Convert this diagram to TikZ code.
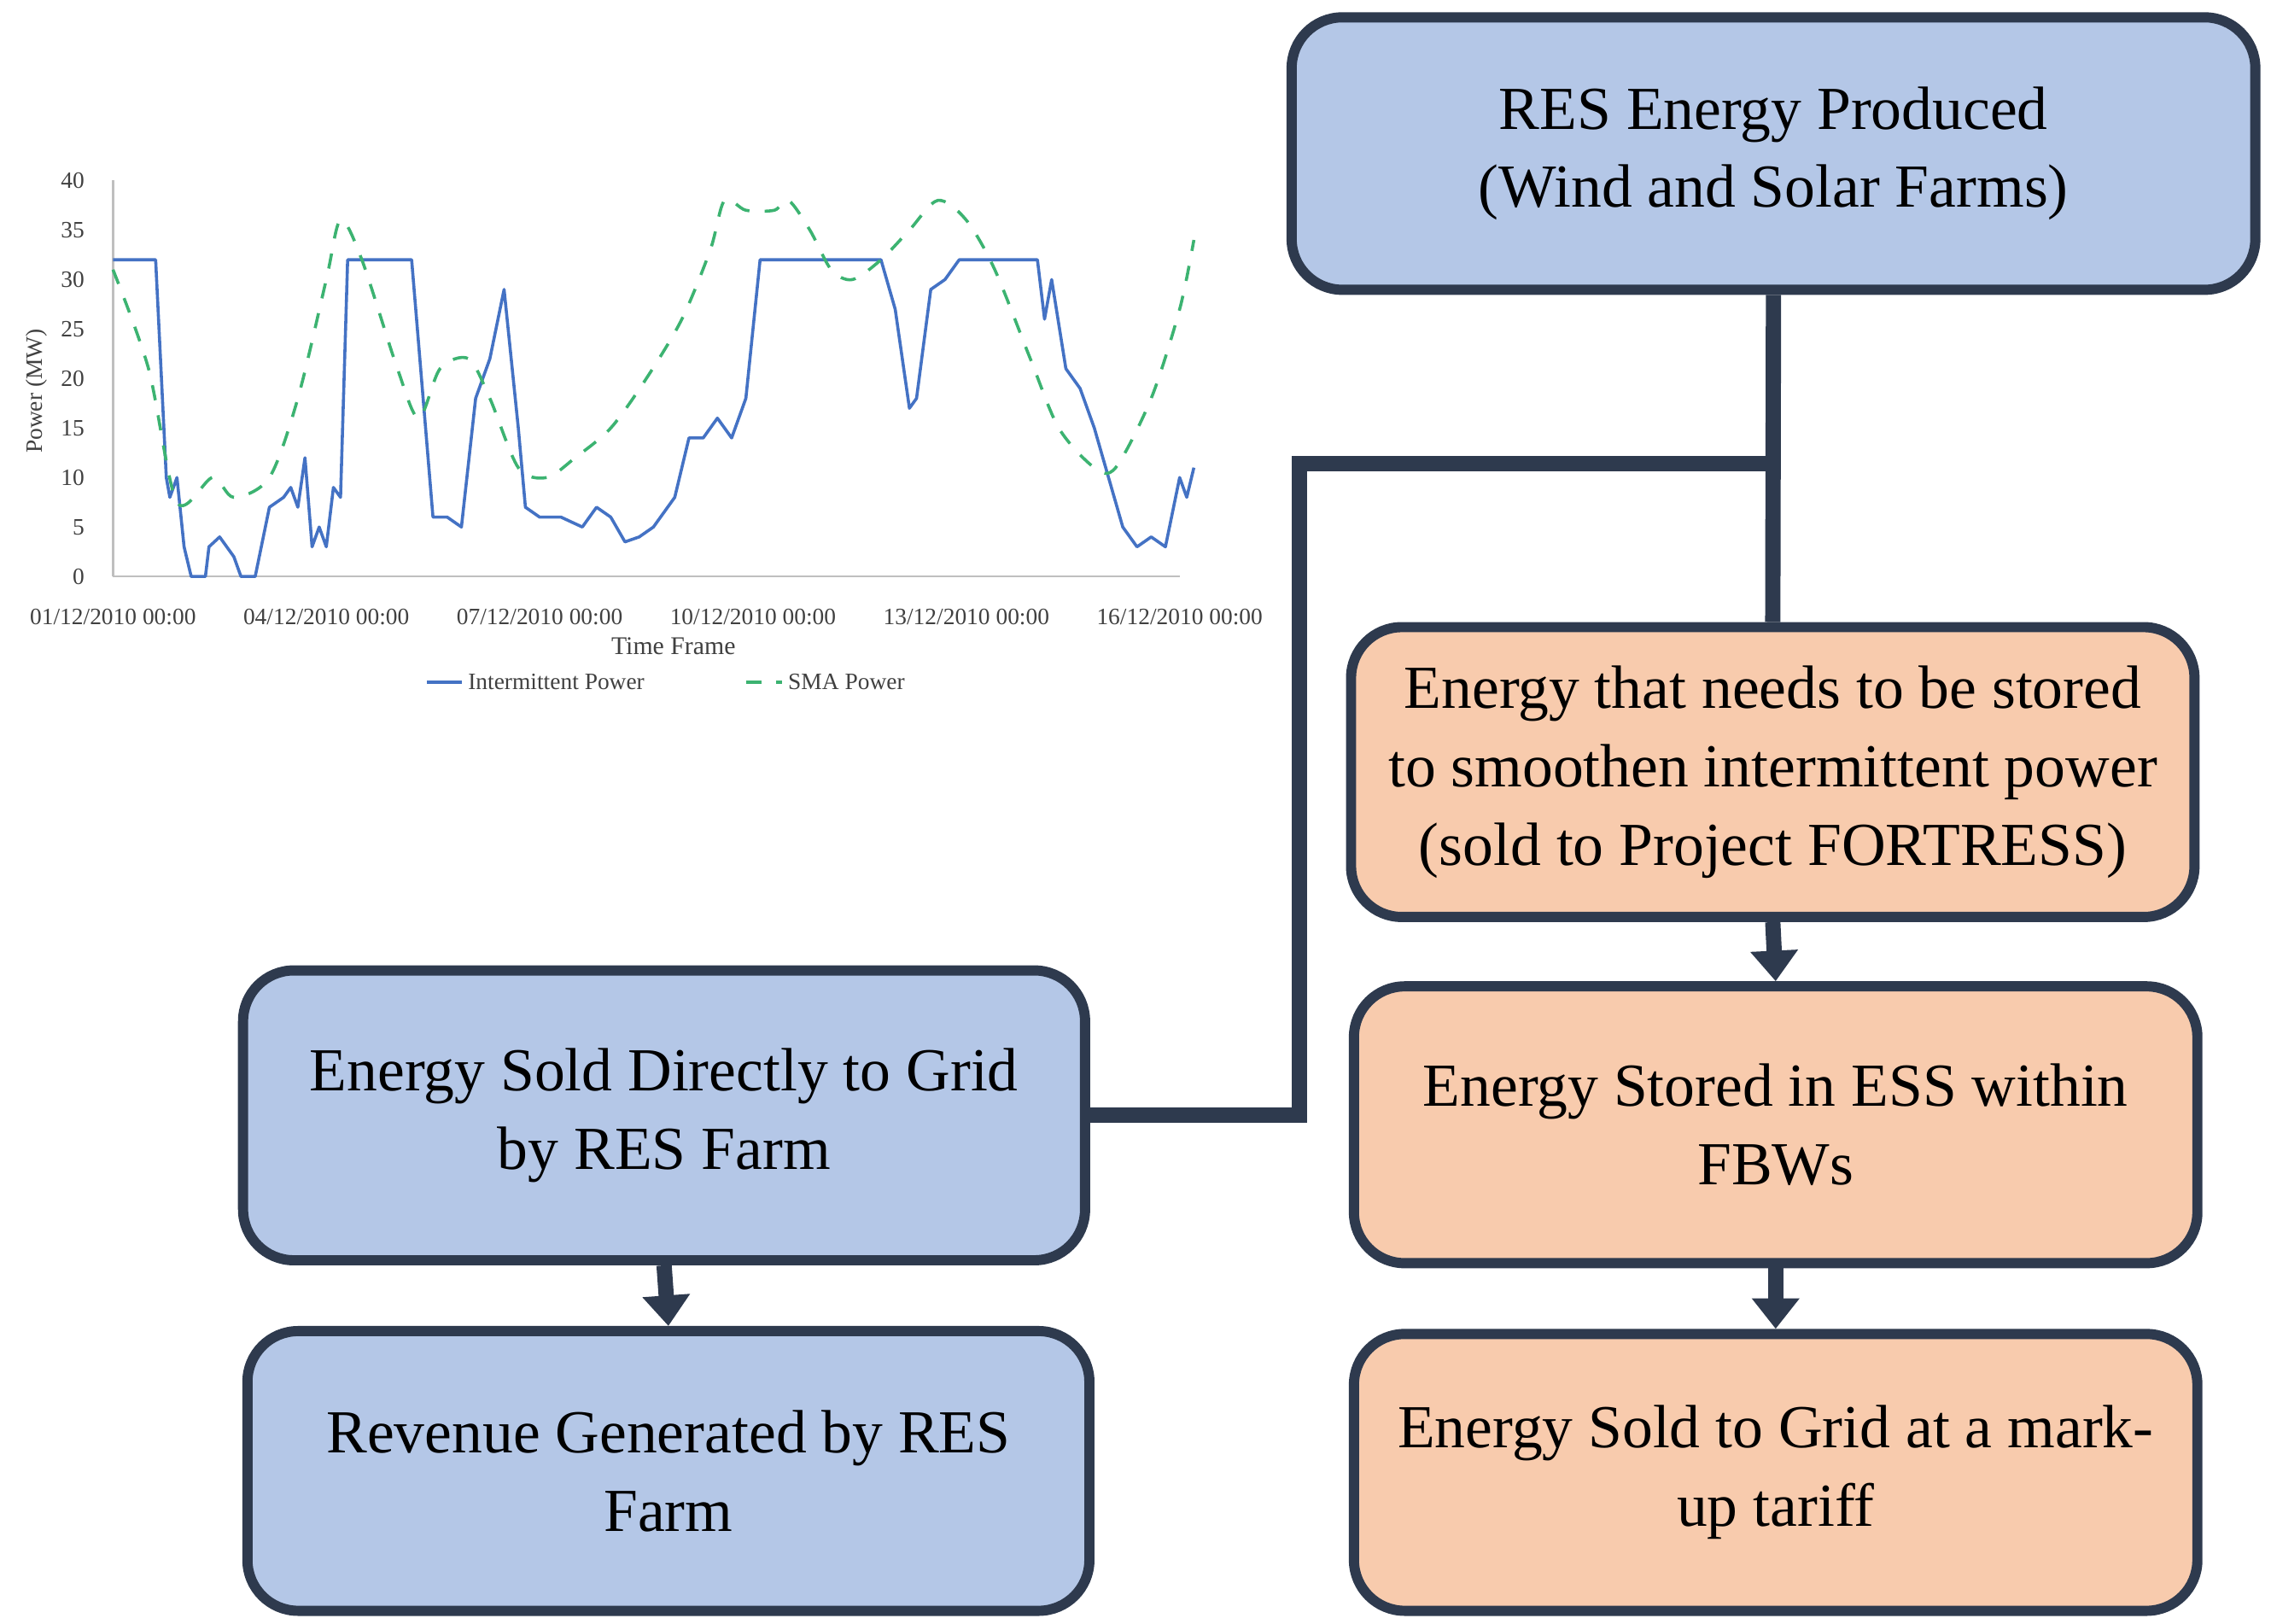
\documentclass[tikz,border=0pt]{standalone}
\usepackage{fontspec}
\setmainfont{Liberation Serif}
\usetikzlibrary{arrows.meta}
\definecolor{bluefill}{HTML}{B4C7E7}
\definecolor{orfill}{HTML}{F8CBAD}
\definecolor{edge}{HTML}{2E3A4E}
\definecolor{serblue}{HTML}{4472C4}
\definecolor{sergreen}{HTML}{3CB371}
\tikzset{
 box/.style={draw=edge,line width=2pt,rounded corners=0.35cm,align=center,font=\fontsize{12}{15.4}\selectfont,inner sep=0pt},
 bbox/.style={box,fill=bluefill},
 obox/.style={box,fill=orfill},
 conn/.style={draw=edge,line width=3pt},
 arr/.style={conn,-{Triangle[length=6pt,width=9pt]}},
 tick/.style={font=\fontsize{4.6}{5}\selectfont,text=black!75},
}
\begin{document}
\begin{tikzpicture}[x=0.01cm,y=-0.01cm]
\useasboundingbox (0,0) rectangle (1568,1120.6);
\node[bbox,minimum width=6.65cm,minimum height=1.88cm] (top) at (1224.5,106) {RES Energy Produced\\(Wind and Solar Farms)};
\node[obox,minimum width=5.82cm,minimum height=2.0cm] (o1) at (1224,533) {Energy that needs to be stored\\to smoothen intermittent power\\(sold to Project FORTRESS)};
\node[obox,minimum width=5.82cm,minimum height=1.91cm] (o2) at (1226,776.5) {Energy Stored in ESS within\\FBWs};
\node[obox,minimum width=5.82cm,minimum height=1.91cm] (o3) at (1226,1016.5) {Energy Sold to Grid at a mark-\\up tariff};
\node[bbox,minimum width=5.81cm,minimum height=2.0cm] (l1) at (458.5,770) {Energy Sold Directly to Grid\\by RES Farm};
\node[bbox,minimum width=5.81cm,minimum height=1.93cm] (l2) at (461.5,1015.5) {Revenue Generated by RES\\Farm};
\coordinate (j) at (1225,320);
\coordinate (c1) at (897,320);
\coordinate (c2) at (897,770);
\draw[conn] (top.south) -- (o1.north);
\draw[conn] (j) -- (c1) -- (c2) -- (l1.east);
\draw[arr] (o1.south) -- (o2.north);
\draw[arr] (o2.south) -- (o3.north);
\draw[arr] (l1.south) -- (l2.north);
% chart
\begin{scope}[shift={(78,398)},x=0.4907cm,y=0.0683cm]
\draw[black!25,line width=0.4pt] (0,0) -- (15,0);
\draw[black!25,line width=0.4pt] (0,0) -- (0,40);
\foreach \v in {0,5,...,40} \node[tick,anchor=east] (yt\v) at (-0.15,\v) {\v};
\foreach \d/\t in {0/01,3/04,6/07,9/10,12/13,15/16} \node[tick,anchor=north] (xt\d) at (\d,-1.5) {\t/12/2010 00:00};
\draw[serblue,line width=0.6pt,line join=round] plot coordinates {(0,32)(0.6,32)(0.75,10)(0.8,8)(0.9,10)(1.0,3)(1.1,0)(1.3,0)(1.35,3)(1.5,4)(1.7,2)(1.8,0)(2.0,0)(2.2,7)(2.4,8)(2.5,9)(2.6,7)(2.7,12)(2.8,3)(2.9,5)(3.0,3)(3.1,9)(3.2,8)(3.3,32)(4.2,32)(4.5,6)(4.7,6)(4.9,5)(5.1,18)(5.3,22)(5.5,29)(5.7,15)(5.8,7)(6,6)(6.3,6)(6.6,5)(6.8,7)(7.0,6)(7.2,3.5)(7.4,4)(7.6,5)(7.9,8)(8.1,14)(8.3,14)(8.5,16)(8.7,14)(8.9,18)(9.1,32)(10.8,32)(11.0,27)(11.2,17)(11.3,18)(11.5,29)(11.7,30)(11.9,32)(13.0,32)(13.1,26)(13.2,30)(13.4,21)(13.6,19)(13.8,15)(14.0,10)(14.2,5)(14.4,3)(14.6,4)(14.8,3)(15.0,10)(15.1,8)(15.2,11)};
\draw[sergreen,line width=0.6pt,dashed,smooth] plot coordinates {(0,31)(0.5,21)(0.9,7.5)(1.4,10)(1.7,8)(2.2,10)(2.6,18)(3.0,30)(3.2,36)(3.5,32)(4.0,21)(4.3,16)(4.6,21)(5.0,22)(5.3,18)(5.7,11)(6.1,10)(6.5,12)(7.0,15)(7.5,20)(8.0,26)(8.4,33)(8.6,38)(8.9,37)(9.3,37)(9.5,38)(9.8,35)(10.1,31)(10.4,30)(10.8,32)(11.2,35)(11.6,38)(12.0,36)(12.4,31)(12.9,22)(13.3,15)(13.8,11)(14.1,11)(14.6,18)(15,27)(15.2,34)};
\end{scope}
\node[tick,rotate=90] (ylab) at (25,270) {Power (MW)};
\node[tick,font=\fontsize{5}{6}\selectfont] (xlab) at (465,446) {Time Frame};
\coordinate (lb1) at (295,471); \coordinate (lb2) at (319,471);
\coordinate (lg1) at (515,471); \coordinate (lg2) at (540,471);
\draw[serblue,line width=0.6pt] (lb1) -- (lb2);
\draw[sergreen,line width=0.6pt,dashed] (lg1) -- (lg2);
\node[tick,anchor=west,inner sep=1pt] (leg1) at (lb2) {Intermittent Power};
\node[tick,anchor=west,inner sep=1pt] (leg2) at (lg2) {SMA Power};
\end{tikzpicture}
\end{document}
